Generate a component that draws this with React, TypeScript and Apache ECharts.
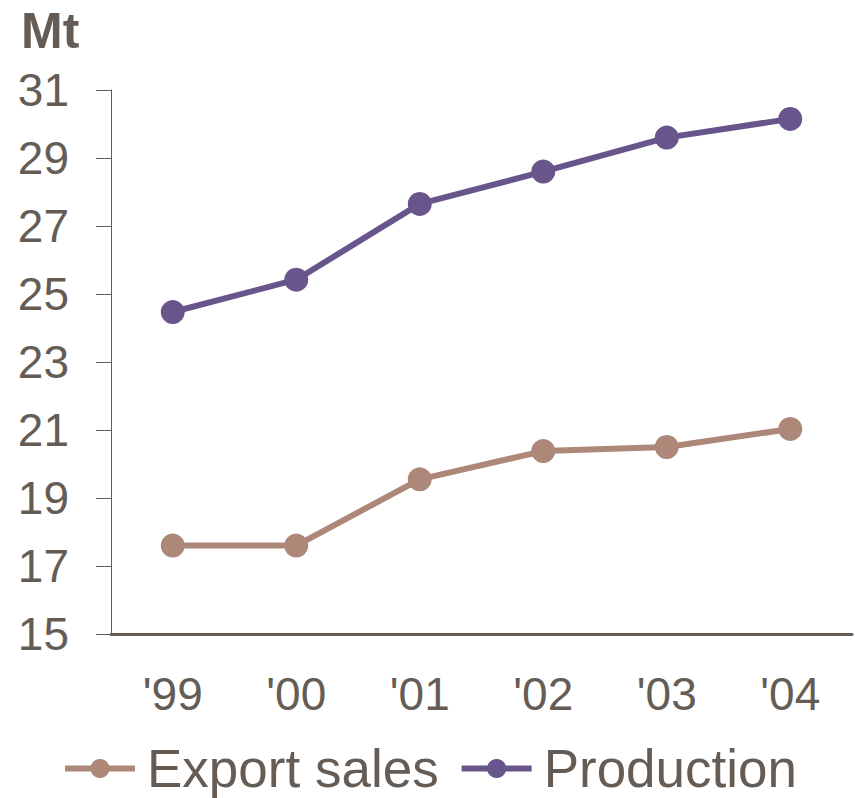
import React, { useEffect, useRef } from "react";
import * as echarts from "echarts";

const years = ["'99", "'00", "'01", "'02", "'03", "'04"];
const exportSales = [17.6, 17.6, 19.55, 20.38, 20.5, 21.03];
const production = [24.47, 25.42, 27.65, 28.6, 29.6, 30.15];
const yTicks = { min: 15, max: 31, interval: 2 };

const TEXT = "#655d55";
const FONT = "'Liberation Sans', Arial, sans-serif";

export default function App() {
  const ref = useRef<HTMLDivElement>(null);

  useEffect(() => {
    if (!ref.current) return;
    const chart = echarts.init(ref.current, undefined, { renderer: "svg" });
    chart.setOption({
      animation: false,
      grid: { left: 111, right: 3, top: 90, bottom: 164 },
      graphic: [
        {
          type: "text",
          left: 21,
          top: 6,
          style: { text: "Mt", fill: TEXT, font: `bold 50px ${FONT}` },
        },
      ],
      legend: {
        left: 57,
        top: 737,
        itemWidth: 70,
        itemHeight: 24,
        itemGap: 20,
        lineStyle: { width: 6 },
        textStyle: { color: TEXT, fontSize: 53, fontFamily: FONT, padding: [0, 0, 0, 7] },
        data: ["Export sales", "Production"],
      },
      xAxis: {
        type: "category",
        data: years,
        boundaryGap: true,
        axisLine: { lineStyle: { color: TEXT, width: 3 } },
        axisTick: { show: false },
        axisLabel: { color: TEXT, fontSize: 46, fontFamily: FONT, margin: 37 },
      },
      yAxis: {
        type: "value",
        min: yTicks.min,
        max: yTicks.max,
        interval: yTicks.interval,
        splitLine: { show: false },
        axisLine: { show: true, lineStyle: { color: TEXT, width: 1 } },
        axisTick: { show: true, length: 15, lineStyle: { color: TEXT, width: 1 } },
        axisLabel: { color: TEXT, fontSize: 46, fontFamily: FONT, margin: 42 },
      },
      series: [
        {
          name: "Export sales",
          type: "line",
          data: exportSales,
          symbol: "circle",
          symbolSize: 24,
          color: "#ad8777",
          lineStyle: { width: 6, color: "#ad8777" },
          itemStyle: { color: "#ad8777" },
        },
        {
          name: "Production",
          type: "line",
          data: production,
          symbol: "circle",
          symbolSize: 24,
          color: "#67558b",
          lineStyle: { width: 6, color: "#67558b" },
          itemStyle: { color: "#67558b" },
        },
      ],
    });
    return () => chart.dispose();
  }, []);

  return <div ref={ref} style={{ width: 855, height: 798, position: "absolute", left: 0, top: 0 }} />;
}
